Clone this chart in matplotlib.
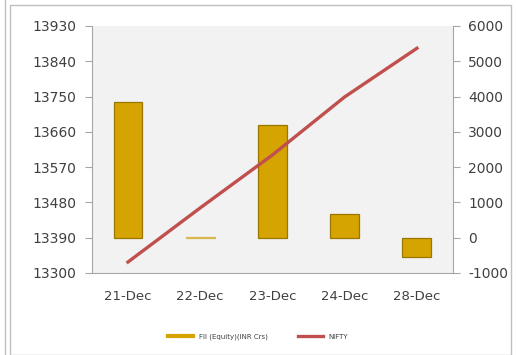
import matplotlib.pyplot as plt
from matplotlib.patches import Rectangle
from matplotlib.lines import Line2D

# data
dates = ['21-Dec', '22-Dec', '23-Dec', '24-Dec', '28-Dec']
fii = [3850, 15, 3200, 680, -540]
nifty = [13328, 13466, 13601, 13749, 13873]
left_ticks = [13300, 13390, 13480, 13570, 13660, 13750, 13840, 13930]
right_ticks = [-1000, 0, 1000, 2000, 3000, 4000, 5000, 6000]

plt.rcParams['font.family'] = ['DejaVu Sans']
plt.rcParams['axes.unicode_minus'] = False

fig = plt.figure(figsize=(5.16, 3.55), dpi=100)

# outer frame
fig.patches.append(Rectangle((10 / 516, 0), 501 / 516, 350 / 355, transform=fig.transFigure,
                             fill=False, edgecolor='#BFBFBF', linewidth=1))
fig.add_artist(Line2D([4.5 / 516, 4.5 / 516], [0, 1], transform=fig.transFigure,
                      color='#BFBFBF', linewidth=1))

ax_bar = fig.add_axes([0.178, 0.231, 0.700, 0.696])
ax_line = ax_bar.twinx()

x = range(len(dates))

# bars on the right scale
ax_bar.set_facecolor('#F2F2F2')
bars = ax_bar.bar(x, fii, width=0.4, color='#D6A400', edgecolor='#9A7600', linewidth=0.9,
                  label='FII (Equity)(INR Crs)', zorder=2)
bars[1].set_color('#D9B850')
ax_bar.set_ylim(-1000, 6000)
ax_bar.set_yticks(right_ticks)
ax_bar.yaxis.tick_right()
ax_bar.set_xlim(-0.5, 4.5)
ax_bar.set_xticks(list(x))
ax_bar.set_xticklabels(dates)

# line on the left scale, drawn above bars
ax_line.plot(x, nifty, color='#C0504D', linewidth=2.4, label='NIFTY')
ax_line.set_ylim(13300, 13930)
ax_line.set_yticks(left_ticks)
ax_line.yaxis.tick_left()
ax_line.set_zorder(ax_bar.get_zorder() + 1)
ax_line.patch.set_visible(False)

for a in (ax_bar, ax_line):
    for s in a.spines.values():
        s.set_visible(False)
    a.tick_params(axis='y', direction='out', length=5, color='#A6A6A6',
                  labelcolor='#404040', labelsize=10, pad=6)
ax_bar.spines['right'].set_visible(True)
ax_bar.spines['right'].set_color('#A6A6A6')
ax_bar.spines['bottom'].set_visible(True)
ax_bar.spines['bottom'].set_color('#A6A6A6')
ax_line.spines['left'].set_visible(True)
ax_line.spines['left'].set_color('#A6A6A6')
ax_bar.tick_params(axis='x', length=0, labelcolor='#404040', labelsize=9.5, pad=12)

h2, l2 = ax_line.get_legend_handles_labels()
handles = [Line2D([0], [0], color='#D6A400', linewidth=3)] + h2
fig.legend(handles, ['FII (Equity)(INR Crs)'] + l2, loc='center',
           bbox_to_anchor=(0.5, 1 - 337 / 355),
           ncol=2, frameon=False, fontsize=5, handlelength=3.6, columnspacing=4.3,
           handletextpad=0.8, labelcolor='#404040')

fig.savefig('out.png', dpi=100)
